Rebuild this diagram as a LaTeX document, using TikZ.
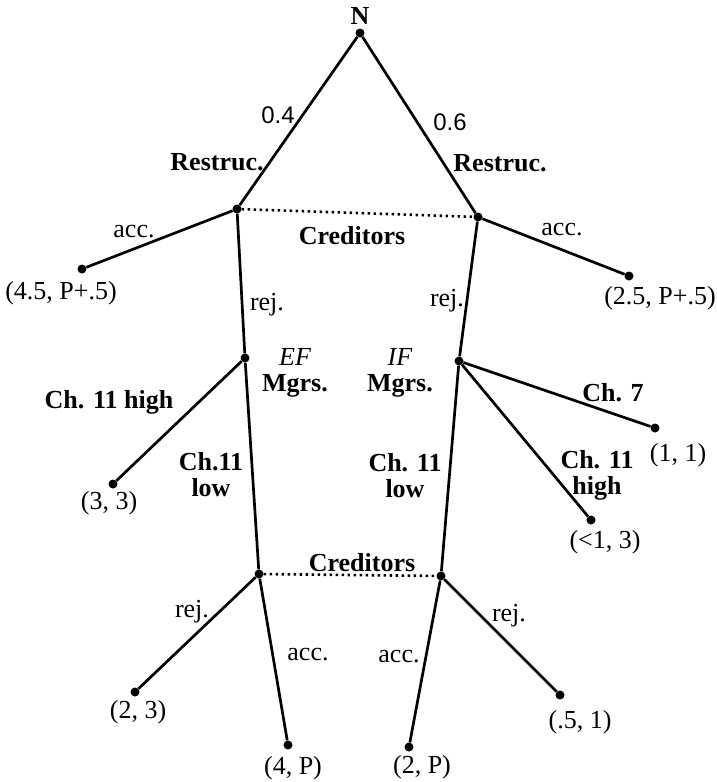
\documentclass[tikz,border=0pt]{standalone}
\usepackage{fontspec}
\setmainfont{Liberation Serif}
\newfontfamily\probfont{Liberation Sans}
\usetikzlibrary{positioning}
\tikzset{
    dot/.style={circle,fill,inner sep=0pt,minimum size=9pt},
    branch/.style={line width=2.7pt},
    info/.style={line width=2.6pt,dash pattern=on 2.4pt off 3.6pt},
    bl/.style={font=\fontsize{26}{26}\selectfont\bfseries,inner sep=0pt,align=center},
    rl/.style={font=\fontsize{26}{26}\selectfont,inner sep=0pt,align=center},
    pl/.style={font=\fontsize{24}{26}\selectfont\probfont,inner sep=0pt},
}
\begin{document}
\begin{tikzpicture}[x=1pt,y=-1pt]
    \useasboundingbox (0,0) rectangle (717,782);

    % decision points
    \node[dot] (n) at (360,33) {};
    \node[dot] (cl) at (237,209) {};
    \node[dot] (cr) at (478,217) {};
    \node[dot] (ef) at (245,358) {};
    \node[dot] (if) at (459,361) {};
    \node[dot] (dl) at (259,574) {};
    \node[dot] (dr) at (441,576) {};

    % end points
    \node[dot] (l1) at (82,269) {};
    \node[dot] (l2) at (629,276) {};
    \node[dot] (l3) at (113,484) {};
    \node[dot] (l4) at (655,428) {};
    \node[dot] (l5) at (591,520) {};
    \node[dot] (l6) at (135,692) {};
    \node[dot] (l7) at (288,745) {};
    \node[dot] (l8) at (409,747) {};
    \node[dot] (l9) at (560,695) {};

    \draw[branch] (l1) -- (cl) -- (n) -- (cr) -- (l2);
    \draw[branch] (cl) -- (ef) -- (dl) -- (l7);
    \draw[branch] (cr) -- (if) -- (dr) -- (l8);
    \draw[branch] (ef) -- (l3);
    \draw[branch] (if) -- (l4);
    \draw[branch] (if) -- (l5);
    \draw[branch] (dl) -- (l6);
    \draw[branch] (dr) -- (l9);
    \draw[info] (cl) -- (cr);
    \draw[info] (dl) -- (dr);

    % labels
    \node[bl, above=4pt of n] (nl) {N};
    \node[pl] (pr1) at (278,115) {0.4};
    \node[pl] (pr2) at (450,122) {0.6};
    \node[bl] (rsl) at (217,162) {Restruc.};
    \node[bl] (rsr) at (500,163) {Restruc.};
    \node[rl] (al1) at (134,232) {acc.};
    \node[rl] (ar1) at (562,230) {acc.};
    \node[bl] (cr1) at (352,236) {Creditors};
    \node[rl] (rjl1) at (267,305) {rej.};
    \node[rl] (rjr1) at (447,301) {rej.};
    \node[bl] (efl) at (295,373) {{\mdseries\itshape EF}\\Mgrs.};
    \node[bl] (ifl) at (400,373) {{\mdseries\itshape IF}\\Mgrs.};
    \node[bl] (hil) at (109,402) {Ch. 11 high};
    \node[bl] (lol) at (211,475) {Ch.11\\low};
    \node[bl] (lor) at (405,476) {Ch. 11\\low};
    \node[bl] (c7) at (613,393) {Ch. 7};
    \node[bl] (hir) at (597,475) {Ch. 11\\high};
    \node[bl] (cr2) at (362,563) {Creditors};
    \node[rl] (rjl2) at (192,612) {rej.};
    \node[rl] (rjr2) at (509,616) {rej.};
    \node[rl] (al2) at (308,655) {acc.};
    \node[rl] (ar2) at (399,657) {acc.};

    % payoffs
    \node[rl] (p1) at (61,293) {(4.5, P+.5)};
    \node[rl] (p2) at (660,298) {(2.5, P+.5)};
    \node[rl] (p3) at (109,503) {(3, 3)};
    \node[rl] (p4) at (678,455) {(1, 1)};
    \node[rl] (p5) at (605,542) {(<1, 3)};
    \node[rl] (p6) at (138,712) {(2, 3)};
    \node[rl] (p7) at (293,768) {(4, P)};
    \node[rl] (p8) at (422,767) {(2, P)};
    \node[rl] (p9) at (580,722) {(.5, 1)};
\end{tikzpicture}
\end{document}
